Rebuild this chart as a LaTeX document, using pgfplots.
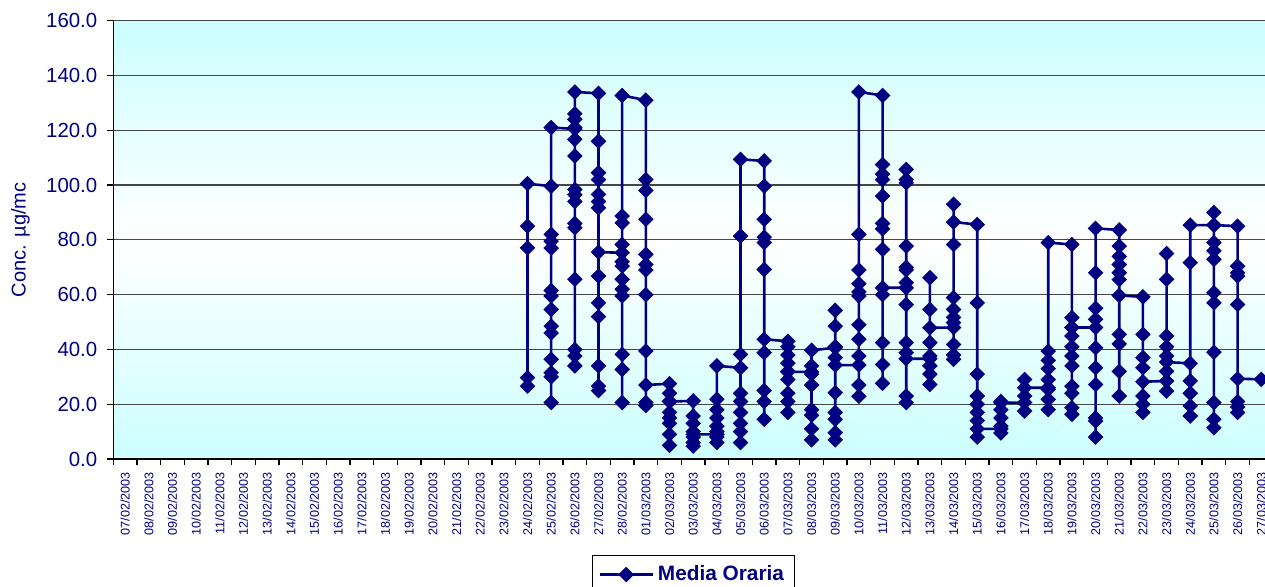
\documentclass[border=0pt]{standalone}
\usepackage{fontspec}
\setmainfont{Liberation Sans}
\usepackage{pgfplots}
\pgfplotsset{compat=1.18}
\definecolor{navy}{RGB}{0,0,128}
\definecolor{bgcyan}{RGB}{204,255,255}
\definecolor{gridc}{RGB}{70,70,70}
\begin{document}
\begin{tikzpicture}
\path[use as bounding box] (-56.65pt,-63.5pt) rectangle (575.85pt,229.5pt);
\clip (-56.65pt,-63.5pt) rectangle (575.85pt,229.5pt);
\begin{axis}[
  at={(0pt,0pt)}, anchor=south west,
  scale only axis,
  width=579.9pt, height=219.15pt,
  xmin=-0.5, xmax=48.5, ymin=0, ymax=160,
  axis x line*=bottom, axis y line*=left,
  axis line style={black, line width=0.7pt},
  axis background/.style={shade, top color=bgcyan, bottom color=bgcyan, middle color=white},
  tick align=outside,
  major tick length=3pt,
  tick style={black, line width=0.6pt},
  ytick={0,20,...,160},
  yticklabels={0.0,20.0,40.0,60.0,80.0,100.0,120.0,140.0,160.0},
  yticklabel style={text=navy, font=\fontsize{10.2}{12}\selectfont, xshift=-1.5pt},
  /pgf/number format/assume math mode=true,
  ymajorgrids,
  grid style={gridc, line width=0.6pt},
  xtick={-0.5,0.5,...,48.5},
  x tick label as interval,
  xticklabels={07/02/2003,08/02/2003,09/02/2003,10/02/2003,11/02/2003,12/02/2003,13/02/2003,14/02/2003,15/02/2003,16/02/2003,17/02/2003,18/02/2003,19/02/2003,20/02/2003,21/02/2003,22/02/2003,23/02/2003,24/02/2003,25/02/2003,26/02/2003,27/02/2003,28/02/2003,01/03/2003,02/03/2003,03/03/2003,04/03/2003,05/03/2003,06/03/2003,07/03/2003,08/03/2003,09/03/2003,10/03/2003,11/03/2003,12/03/2003,13/03/2003,14/03/2003,15/03/2003,16/03/2003,17/03/2003,18/03/2003,19/03/2003,20/03/2003,21/03/2003,22/03/2003,23/03/2003,24/03/2003,25/03/2003,26/03/2003,27/03/2003},
  xticklabel style={rotate=90, anchor=east, text=navy, font=\fontsize{6.3}{7}\selectfont},
  every axis y label/.style={at={([xshift=-41.5pt]axis description cs:0,0.5)}, rotate=90, anchor=south, inner sep=0pt, text=navy, font=\fontsize{10}{12}\selectfont},
  ylabel={Conc. µg/mc},
  legend style={at={(0.5,-0.219)}, anchor=north, draw=black, line width=0.5pt, fill=white,
    font=\bfseries\fontsize{10.4}{12}\selectfont, text=navy, inner xsep=3pt, inner ysep=3pt},
  legend image code/.code={\draw[#1, mark repeat=2, mark phase=2] plot coordinates {(0pt,0pt) (13.25pt,0pt) (26.5pt,0pt)};},
]
\addplot[navy, line width=1.3pt, mark=square*, mark size=2.5pt,
  mark options={rotate=45, solid, fill=navy, draw=navy, line width=0.5pt}]
coordinates {
(17,29.7)(17,26.6)(17,77.1)(17,85)(17,100.5)
(18,99.6)(18,82)(18,79.5)(18,77)(18,61.5)(18,59.5)(18,54.6)(18,48.5)(18,46)(18,36.4)(18,31.5)(18,30)(18,20.6)(18,121)
(19,120.5)(19,121)(19,116.7)(19,110.6)(19,98.4)(19,96.5)(19,94)(19,86)(19,84.4)(19,65.6)(19,40)(19,37.6)(19,34)(19,124)(19,126)(19,134)
(20,133.5)(20,116)(20,104.5)(20,102)(20,96.6)(20,94)(20,91.7)(20,66.8)(20,57)(20,52)(20,34)(20,26.6)(20,25)(20,75.5)
(21,75.3)(21,88.7)(21,86.2)(21,78.3)(21,72)(21,70.4)(21,65.6)(21,62)(21,59.5)(21,38.2)(21,32.7)(21,20.6)(21,132.7)
(22,131)(22,102)(22,98)(22,87.5)(22,74.7)(22,71)(22,69)(22,60)(22,39.4)(22,20.6)(22,19.5)(22,27)
(23,27.5)(23,24)(23,21)(23,17)(23,13)(23,9)(23,5)(23,15)(23,21)
(24,21.2)(24,15.7)(24,13)(24,10)(24,8)(24,6)(24,4.7)(24,9)
(25,9)(25,18)(25,15)(25,12)(25,10)(25,8)(25,6)(25,21.8)(25,34)
(26,33.3)(26,38.2)(26,24)(26,21)(26,17)(26,13)(26,10)(26,6)(26,81.4)(26,109.4)
(27,108.8)(27,99.6)(27,87.5)(27,81)(27,79)(27,69.2)(27,38.8)(27,25)(27,21)(27,14.5)(27,43.7)
(28,43)(28,41)(28,38)(28,35)(28,32)(28,29)(28,24)(28,21)(28,17)(28,31.8)
(29,31.8)(29,34)(29,31)(29,27)(29,18)(29,16)(29,11)(29,7)(29,39.7)
(30,40.6)(30,54.3)(30,48.5)(30,41)(30,37)(30,24.2)(30,17)(30,14.5)(30,9.6)(30,7)(30,34.3)
(31,34.3)(31,37.6)(31,27)(31,22.9)(31,43.7)(31,49)(31,59.5)(31,61)(31,64)(31,69)(31,82)(31,134)
(32,132.7)(32,107.5)(32,104)(32,102)(32,96)(32,86)(32,84)(32,76.5)(32,42.5)(32,34.5)(32,27.6)(32,60)(32,62.5)
(33,62.5)(33,105.7)(33,102)(33,100.8)(33,77.7)(33,70)(33,69)(33,64.4)(33,56.4)(33,42.5)(33,38.8)(33,23)(33,20.6)(33,36.6)
(34,36.6)(34,66.2)(34,54.6)(34,42.5)(34,37.6)(34,34)(34,31)(34,27.2)(34,47.9)
(35,48)(35,49.8)(35,51.7)(35,54.6)(35,58.9)(35,78.3)(35,93)(35,41.8)(35,38)(35,36.4)(35,86.5)
(36,85.6)(36,57)(36,31)(36,23)(36,20)(36,17)(36,14)(36,8)(36,11)
(37,11)(37,9.5)(37,12)(37,15)(37,18)(37,21)(37,20.6)
(38,20.6)(38,17.5)(38,23)(38,29)(38,26)
(39,26)(39,29)(39,33)(39,36)(39,39.4)(39,21.8)(39,18)(39,25.4)(39,79)
(40,78.3)(40,51.6)(40,48)(40,44.9)(40,41)(40,37.6)(40,34)(40,26.6)(40,24)(40,18.7)(40,16.3)(40,48)
(41,48)(41,55)(41,51)(41,40.6)(41,33.3)(41,27.2)(41,15)(41,13.9)(41,8)(41,68)(41,84.2)
(42,83.6)(42,77.7)(42,74)(42,71)(42,68)(42,65.5)(42,45.5)(42,42)(42,32)(42,23)(42,59.7)
(43,59.2)(43,45.5)(43,37)(43,33.3)(43,23)(43,20)(43,17)(43,28.2)
(44,28.5)(44,41)(44,44.9)(44,65.6)(44,75)(44,37.6)(44,32)(44,24.8)(44,35.4)
(45,34.9)(45,28.5)(45,24)(45,19.4)(45,15.7)(45,71.7)(45,85.4)
(46,85.4)(46,90)(46,79)(46,76)(46,72.9)(46,60.7)(46,57)(46,39)(46,20.6)(46,14.5)(46,11.4)(46,85.4)
(47,85)(47,70.4)(47,68)(47,66.8)(47,56.4)(47,21)(47,19)(47,17)(47,29.3)
(48,29.1)
};
\addlegendentry{Media Oraria}
\end{axis}
\end{tikzpicture}
\end{document}
